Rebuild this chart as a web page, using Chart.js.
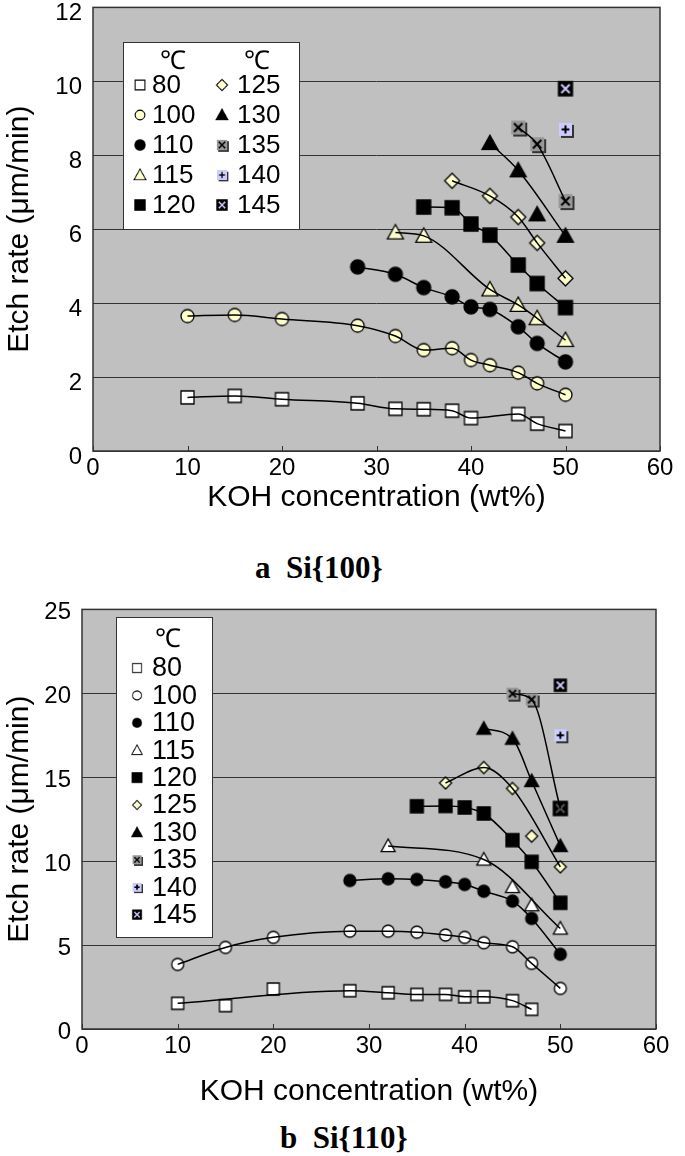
<!DOCTYPE html>
<html>
<head>
<meta charset="utf-8">
<script src="https://cdn.jsdelivr.net/npm/chart.js@4.4.1/dist/chart.umd.min.js"></script>
<style>
  body { margin: 0; background: #fff; width: 685px; height: 1156px; position: relative; overflow: hidden; }
  .box { position: absolute; left: 0; width: 685px; }
  .cap { position: absolute; font: bold 31px 'Liberation Serif', 'Times New Roman', serif; white-space: pre; line-height: 36px; color: #000; }
</style>
</head>
<body>
<div class="box" style="top:-18px;height:548px"><canvas id="c100"></canvas></div>
<div class="cap" style="left:255px;top:550px">a  Si{100}</div>
<div class="box" style="top:584px;height:536px"><canvas id="c110"></canvas></div>
<div class="cap" style="left:280px;top:1120px">b  Si{110}</div>
<script>
// KOH concentration (wt%) used in the experiments
const concentrations = [10, 15, 20, 28, 32, 35, 38, 40, 42, 45, 47, 50];
const temps = ['80', '100', '110', '115', '120', '125', '130', '135', '140', '145'];
const legendUnit = '℃';
const xTitle = 'KOH concentration (wt%)';
const yTitle = 'Etch rate (μm/min)';

// Si{100} etch rate (um/min), one array per temperature
const si100_80  = [1.45, 1.49, 1.40, 1.29, 1.14, 1.13, 1.09, 0.89, null, 1.00, 0.74, 0.54];
const si100_100 = [3.65, 3.68, 3.57, 3.39, 3.11, 2.73, 2.78, 2.46, 2.32, 2.12, 1.83, 1.52];
const si100_110 = [null, null, null, 4.98, 4.78, 4.42, 4.17, 3.90, 3.83, 3.36, 2.91, 2.41];
const si100_115 = [null, null, null, null, 5.91, 5.82, null, null, 4.37, 3.95, 3.59, 3.00];
const si100_120 = [null, null, null, null, null, 6.60, 6.58, 6.14, 5.84, 5.03, 4.53, 3.88];
const si100_125 = [null, null, null, null, null, null, 7.31, null, 6.90, 6.33, 5.63, 4.67];
const si100_130 = [null, null, null, null, null, null, null, null, 8.33, 7.59, 6.40, 5.82];
const si100_135 = [null, null, null, null, null, null, null, null, null, 8.75, 8.30, 6.76];
const si100_140 = [null, null, null, null, null, null, null, null, null, null, null, 8.70];
const si100_145 = [null, null, null, null, null, null, null, null, null, null, null, 9.80];

// Si{110} etch rate (um/min)
const si110_80  = [1.53, 1.39, 2.38, 2.28, 2.16, 2.06, 2.06, 1.92, 1.92, 1.69, 1.17, null];
const si110_100 = [3.85, 4.86, 5.46, 5.83, 5.83, 5.77, 5.60, 5.46, 5.14, 4.90, 3.91, 2.42];
const si110_110 = [null, null, null, 8.85, 8.95, 8.91, 8.77, 8.61, 8.21, 7.62, 6.59, 4.45];
const si110_115 = [null, null, null, null, 10.91, null, null, null, 10.10, 8.47, 7.38, 5.99];
const si110_120 = [null, null, null, null, null, 13.27, 13.29, 13.20, 12.84, 11.25, 9.96, 7.52];
const si110_125 = [null, null, null, null, null, null, 14.66, null, 15.58, 14.33, 11.49, 9.66];
const si110_130 = [null, null, null, null, null, null, null, null, 17.90, 17.30, 14.78, 10.91];
const si110_135 = [null, null, null, null, null, null, null, null, null, 19.98, 19.63, 13.14];
const si110_140 = [null, null, null, null, null, null, null, null, null, null, null, 17.50];
const si110_145 = [null, null, null, null, null, null, null, null, null, null, null, 20.48];

// points that sit off the drawn curve (concentration values)
const offCurve100 = { '130': [47] };
const offCurve110 = { '80': [15, 20], '115': [45, 47], '125': [47] };

const si100 = { '80': si100_80, '100': si100_100, '110': si100_110, '115': si100_115, '120': si100_120,
                '125': si100_125, '130': si100_130, '135': si100_135, '140': si100_140, '145': si100_145 };
const si110 = { '80': si110_80, '100': si110_100, '110': si110_110, '115': si110_115, '120': si110_120,
                '125': si110_125, '130': si110_130, '135': si110_135, '140': si110_140, '145': si110_145 };

function makeMarker(shape, fill, size, glyph, glyphColor, shadow) {
  const pad = 3, n = size + pad * 2;
  const c = document.createElement('canvas');
  c.width = c.height = n;
  const g = c.getContext('2d');
  const m = n / 2, h = size / 2;
  if (shadow) {
    g.fillStyle = '#333';
    g.fillRect(m - h + 2, m - h + 2, size, size);
  }
  g.beginPath();
  if (shape === 'square') g.rect(m - h, m - h, size, size);
  else if (shape === 'circle') g.arc(m, m, h, 0, Math.PI * 2);
  else if (shape === 'triangle') { g.moveTo(m, m - h); g.lineTo(m + h, m + h * 0.8); g.lineTo(m - h, m + h * 0.8); g.closePath(); }
  else if (shape === 'diamond') { g.moveTo(m, m - h); g.lineTo(m + h, m); g.lineTo(m, m + h); g.lineTo(m - h, m); g.closePath(); }
  g.fillStyle = fill;
  g.fill();
  if (!shadow) { g.lineWidth = 1.3; g.strokeStyle = '#000'; g.stroke(); }
  if (glyph) {
    const k = h * 0.6;
    g.strokeStyle = glyphColor; g.lineWidth = 2; g.beginPath();
    if (glyph === 'x') { g.moveTo(m - k, m - k); g.lineTo(m + k, m + k); g.moveTo(m + k, m - k); g.lineTo(m - k, m + k); }
    else { g.moveTo(m - k, m); g.lineTo(m + k, m); g.moveTo(m, m - k); g.lineTo(m, m + k); }
    g.stroke();
  }
  return c;
}

const markers100 = {
  '80': makeMarker('square', '#fff', 13), '100': makeMarker('circle', '#ffffcc', 13),
  '110': makeMarker('circle', '#000', 14), '115': makeMarker('triangle', '#ffffcc', 16),
  '120': makeMarker('square', '#000', 14), '125': makeMarker('diamond', '#ffffcc', 15),
  '130': makeMarker('triangle', '#000', 16), '135': makeMarker('square', '#999', 14, 'x', '#000', true),
  '140': makeMarker('square', '#ccccff', 13, '+', '#000', true), '145': makeMarker('square', '#000', 14, 'x', '#ccccff')
};
const markers110 = {
  '80': makeMarker('square', '#fff', 12), '100': makeMarker('circle', '#fff', 12),
  '110': makeMarker('circle', '#000', 12), '115': makeMarker('triangle', '#fff', 14),
  '120': makeMarker('square', '#000', 13), '125': makeMarker('diamond', '#ffffcc', 12),
  '130': makeMarker('triangle', '#000', 14), '135': makeMarker('square', '#999', 12, 'x', '#000', true),
  '140': makeMarker('square', '#ccccff', 12, '+', '#000', true), '145': makeMarker('square', '#000', 12, 'x', '#ccccff')
};
const dark135 = makeMarker('square', '#000', 14, 'x', '#555');

function buildDatasets(values, markers, offCurve, override) {
  const lines = [], points = [];
  temps.forEach(t => {
    const pts = [];
    concentrations.forEach((c, i) => { if (values[t][i] != null) pts.push({ x: c, y: values[t][i] }); });
    const skip = offCurve[t] || [];
    const linePts = pts.filter(p => !skip.includes(p.x));
    if (linePts.length > 1) {
      lines.push({ data: linePts, showLine: true, borderColor: '#000', borderWidth: 1.5,
                   pointRadius: 0, cubicInterpolationMode: 'monotone' });
    }
    points.push({
      data: pts, showLine: false, pointRadius: 5,
      pointStyle: ctx => (override[t] && ctx.raw && override[t][ctx.raw.x]) || markers[t]
    });
  });
  return lines.concat(points);
}

const framePlugin = {
  id: 'frame',
  beforeDraw(chart) {
    const { ctx, chartArea: a } = chart;
    ctx.save();
    ctx.fillStyle = '#c0c0c0';
    ctx.fillRect(a.left, a.top, a.width, a.height);
    ctx.restore();
  },
  beforeDatasetsDraw(chart) {
    const { ctx, chartArea: a } = chart;
    const xs = chart.scales.x;
    ctx.save();
    ctx.strokeStyle = '#333';
    ctx.lineWidth = 1.5;
    ctx.strokeRect(a.left, a.top, a.width, a.height);
    // short inward tick marks on the x axis
    ctx.lineWidth = 1;
    ctx.beginPath();
    xs.ticks.forEach(t => {
      const px = Math.round(xs.getPixelForValue(t.value)) + 0.5;
      ctx.moveTo(px, a.bottom);
      ctx.lineTo(px, a.bottom - 5);
    });
    ctx.stroke();
    ctx.restore();
  },
  afterDraw(chart, args, o) {
    const L = o.legend, ctx = chart.ctx;
    ctx.save();
    ctx.fillStyle = '#fff';
    ctx.fillRect(L.x, L.y, L.w, L.h);
    ctx.strokeStyle = '#333';
    ctx.lineWidth = 1;
    ctx.strokeRect(L.x + 0.5, L.y + 0.5, L.w, L.h);
    ctx.fillStyle = '#000';
    ctx.textBaseline = 'middle';
    ctx.textAlign = 'center';
    ctx.font = L.headFont;
    L.heads.forEach(h => ctx.fillText(legendUnit, h[0], h[1]));
    ctx.textAlign = 'left';
    ctx.font = L.font;
    temps.forEach((t, i) => {
      const col = Math.floor(i / L.perCol), row = i % L.perCol;
      const y = L.rowY + row * L.rowGap;
      const m = L.markers[t], s = m.width * L.markScale;
      ctx.drawImage(m, L.markX[col] - s / 2, y - s / 2, s, s);
      ctx.fillText(t, L.textX[col], y + 1);
    });
    ctx.restore();
  }
};

function makeChart(id, datasets, yMax, yStep, cfg) {
  return new Chart(document.getElementById(id), {
    type: 'scatter',
    data: { datasets },
    plugins: [framePlugin],
    options: {
      responsive: true,
      maintainAspectRatio: false,
      animation: false,
      events: [],
      layout: { padding: { top: 0, right: cfg.padRight, left: 0, bottom: 0 } },
      plugins: { legend: { display: false }, tooltip: { enabled: false }, frame: { legend: cfg.legend } },
      scales: {
        x: {
          type: 'linear', min: 0, max: 60,
          ticks: { stepSize: 10, color: '#000', padding: -5, font: { family: 'Liberation Sans', size: 24 } },
          grid: { display: false },
          border: { display: false },
          title: { display: true, text: xTitle, color: '#000', padding: { top: 0, bottom: cfg.titlePad },
                   font: { family: 'Liberation Sans', size: 30 } },
          afterFit: s => { s.height = cfg.xAxisH; }
        },
        y: {
          min: 0, max: yMax,
          ticks: { stepSize: yStep, color: '#000', padding: 11, labelOffset: cfg.labelOffset,
                   font: { family: 'Liberation Sans', size: 24 } },
          grid: { color: '#333', lineWidth: 1, drawTicks: false },
          border: { display: false },
          title: { display: true, text: yTitle, color: '#000', padding: { top: 2, bottom: 0 },
                   font: { family: 'Liberation Sans', size: 30 } },
          afterFit: s => { s.width = cfg.yAxisW; }
        }
      }
    }
  });
}

makeChart('c100', buildDatasets(si100, markers100, offCurve100, {}), 12, 2, {
  padRight: 25, xAxisH: 79, yAxisW: 93, titlePad: 14, labelOffset: 6,
  legend: { x: 123, y: 60, w: 176, h: 187, heads: [[173, 80], [257, 80]], headFont: '26px "Liberation Serif", serif',
            font: '26px "Liberation Sans", Arial', perCol: 5, rowY: 103, rowGap: 30,
            markX: [140, 222], textX: [152, 237], markers: markers100, markScale: 0.75 }
});

makeChart('c110', buildDatasets(si110, markers110, offCurve110, { '135': { 50: dark135 } }), 25, 5, {
  padRight: 29, xAxisH: 91, yAxisW: 82, titlePad: 10, labelOffset: 3,
  legend: { x: 116, y: 33, w: 96, h: 320, heads: [[168, 56]], headFont: '26px "Liberation Serif", serif',
            font: '27px "Liberation Sans", Arial', perCol: 10, rowY: 84, rowGap: 27.4,
            markX: [137], textX: [152], markers: markers110, markScale: 0.75 }
});
</script>
</body>
</html>
